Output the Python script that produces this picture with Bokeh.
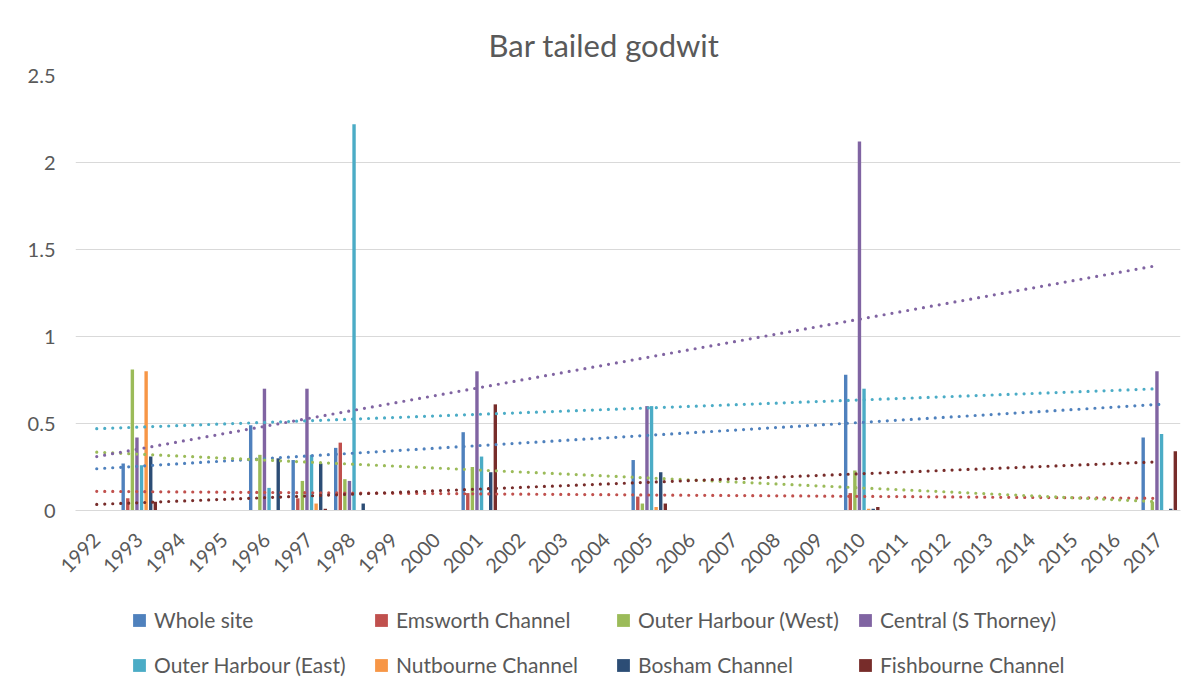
from bokeh.plotting import figure
from bokeh.models import ColumnDataSource, FactorRange, Legend, LegendItem
from bokeh.layouts import column
from bokeh.transform import dodge
from bokeh.embed import file_html
from bokeh.resources import INLINE

years = [str(y) for y in range(1992, 2018)]

def fill(vals):
    # vals: dict year -> value; other years empty (0)
    return [vals.get(y, 0.0) for y in years]

whole_site = fill({"1993": 0.27, "1996": 0.49, "1997": 0.29, "1998": 0.36, "2001": 0.45, "2005": 0.29, "2010": 0.78, "2017": 0.42})
emsworth = fill({"1993": 0.07, "1997": 0.07, "1998": 0.39, "2001": 0.10, "2005": 0.08, "2010": 0.10})
outer_west = fill({"1993": 0.81, "1996": 0.32, "1997": 0.17, "1998": 0.18, "2001": 0.25, "2005": 0.04, "2010": 0.23, "2017": 0.05})
central = fill({"1993": 0.42, "1996": 0.70, "1997": 0.70, "1998": 0.17, "2001": 0.80, "2005": 0.60, "2010": 2.12, "2017": 0.80})
outer_east = fill({"1993": 0.26, "1996": 0.13, "1997": 0.32, "1998": 2.22, "2001": 0.31, "2005": 0.60, "2010": 0.70, "2017": 0.44})
nutbourne = fill({"1993": 0.80, "1997": 0.04, "2005": 0.02, "2010": 0.01})
bosham = fill({"1993": 0.31, "1996": 0.30, "1997": 0.27, "1998": 0.04, "2001": 0.22, "2005": 0.22, "2010": 0.01, "2017": 0.01})
fishbourne = fill({"1993": 0.05, "1997": 0.01, "2001": 0.61, "2005": 0.04, "2010": 0.02, "2017": 0.34})

series_names = ["Whole site", "Emsworth Channel", "Outer Harbour (West)", "Central (S Thorney)",
                "Outer Harbour (East)", "Nutbourne Channel", "Bosham Channel", "Fishbourne Channel"]
series_keys = ["whole", "ems", "west", "central", "east", "nut", "bosham", "fish"]
series_values = [whole_site, emsworth, outer_west, central, outer_east, nutbourne, bosham, fishbourne]
colors = ["#4F81BD", "#C0504D", "#9BBB59", "#8064A2", "#4BACC6", "#F79646", "#2C4D75", "#772C2A"]

# linear trendline endpoints (1992 -> 2017)
trend_keys = ["whole", "ems", "west", "central", "east", "fish"]
trend_start = [0.24, 0.11, 0.335, 0.31, 0.47, 0.035]
trend_end = [0.61, 0.07, 0.05, 1.41, 0.70, 0.28]

data = {"year": years}
for k, v in zip(series_keys, series_values):
    data[k] = v
source = ColumnDataSource(data)

TEXT = "#595959"
GRID = "#d9d9d9"
FONT = "Lato"

p = figure(x_range=FactorRange(factors=years), y_range=(0, 2.5),
           width=1203, height=600, output_backend="svg", toolbar_location=None,
           min_border_left=75, min_border_right=23, min_border_top=75, min_border_bottom=90,
           title="Bar tailed godwit")
p.outline_line_color = None
p.background_fill_color = "white"
p.border_fill_color = "white"

p.title.align = "left"
p.title.text_font = FONT
p.title.text_font_size = "31px"
p.title.text_font_style = "normal"
p.title.text_color = TEXT
p.title.standoff = 24
p.title.offset = 413

n = len(series_keys)
step = 0.108
for i, (k, c) in enumerate(zip(series_keys, colors)):
    off = (i - (n - 1) / 2) * step
    p.vbar(x=dodge("year", off, range=p.x_range), top=k, width=0.08, source=source,
           fill_color=c, line_color=None)

color_of = dict(zip(series_keys, colors))
for k, s, e in zip(trend_keys, trend_start, trend_end):
    p.line(x=[years[0], years[-1]], y=[s, e], line_color=color_of[k], line_width=3.2,
           line_dash="0 8", line_cap="round")

p.xgrid.grid_line_color = None
p.ygrid.grid_line_color = GRID
p.ygrid.grid_line_width = 1
p.yaxis.ticker = [0, 0.5, 1, 1.5, 2, 2.5]
p.yaxis.axis_line_color = None
p.yaxis.major_tick_line_color = None
p.yaxis.minor_tick_line_color = None
p.yaxis.major_label_text_font = FONT
p.yaxis.major_label_text_font_size = "20px"
p.yaxis.major_label_text_color = TEXT
p.yaxis.major_label_standoff = 14

p.xaxis.axis_line_color = GRID
p.xaxis.major_tick_line_color = None
p.xaxis.minor_tick_line_color = None
p.xaxis.major_label_orientation = 0.785398
p.xaxis.major_label_text_font = FONT
p.xaxis.major_label_text_font_size = "20px"
p.xaxis.major_label_text_color = TEXT
p.xaxis.major_label_standoff = 20

# legend strip below the chart (swatch renderers sit outside the visible range)
lg = figure(width=1203, height=99, output_backend="svg", toolbar_location=None,
            x_range=(0, 1), y_range=(0, 1), min_border=0,
            x_axis_location=None, y_axis_location=None)
lg.outline_line_color = None
lg.grid.visible = False
lg.border_fill_color = "white"
swatches = []
for name, c in zip(series_names, colors):
    r = lg.quad(left=[4], right=[5], bottom=[4], top=[5], fill_color=c, line_color=None)
    swatches.append((name, r))

def make_legend(items, y):
    return Legend(items=[LegendItem(label=nm, renderers=[r]) for nm, r in items],
                  orientation="horizontal", location=(56, y),
                  glyph_width=16, glyph_height=16, label_standoff=7,
                  label_width=218, label_height=24, spacing=1, padding=0, margin=0,
                  border_line_color=None, background_fill_alpha=0,
                  label_text_font=FONT, label_text_font_size="21px", label_text_color=TEXT)

lg.add_layout(make_legend(swatches[:4], 67))
lg.add_layout(make_legend(swatches[4:], 22))

open("out.html", "w").write(file_html(column(p, lg, spacing=0), INLINE))
